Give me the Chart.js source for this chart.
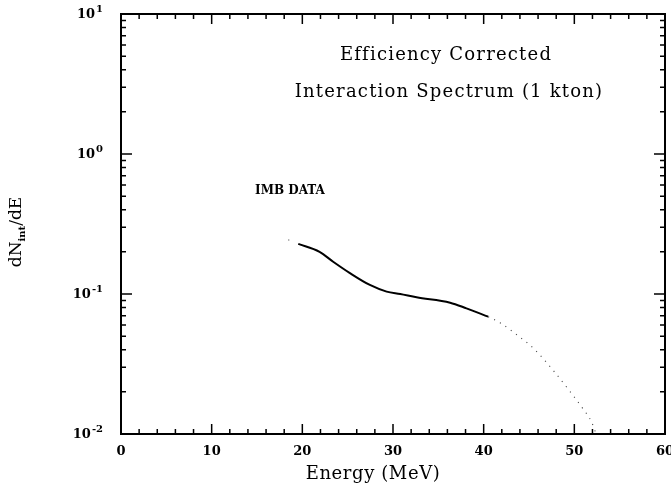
<!DOCTYPE html>
<html lang="en">
<head>
<meta charset="UTF-8" />
<title>Interaction Spectrum</title>
<script src="https://cdn.jsdelivr.net/npm/chart.js"></script>
<style>
  body { margin: 0; background: #fff; }
  .box { position: relative; width: 671px; height: 491px; }
</style>
</head>
<body>
<div class="box"><canvas id="spectrum"></canvas></div>
<script>
  // energy (MeV) and dN_int/dE
  const solidEnergy = [19.55, 21.9, 23.4, 25.25, 27.45, 29.3, 30.8, 32.6, 36.3, 38.1, 40.5];
  const solidRate   = [0.228, 0.200, 0.170, 0.141, 0.116, 0.104, 0.100, 0.0947, 0.0867, 0.079, 0.0689];
  const dottedEnergy = [40.5, 41.8, 44.0, 45.5, 47.7, 49.9, 50.9, 51.9, 52.4];
  const dottedRate   = [0.0689, 0.0624, 0.0491, 0.0409, 0.0283, 0.0187, 0.0153, 0.0122, 0.0100];
  const strayEnergy = [18.5];
  const strayRate   = [0.243];

  const xTicks = [0, 10, 20, 30, 40, 50, 60];
  const yDecades = [0.01, 0.1, 1, 10];
  const yExponents = ['-2', '-1', '0', '1'];

  const pairs = (xs, ys) => xs.map((x, i) => ({ x: x, y: ys[i] }));
  const serif = '"DejaVu Serif", serif';

  // box, inward ticks on all sides, y labels with exponents, and the texts
  const frame = {
    id: 'frame',
    afterDraw(chart) {
      const { ctx, chartArea: a, scales: { x, y } } = chart;
      ctx.save();
      ctx.strokeStyle = '#000';
      ctx.lineWidth = 2;
      ctx.strokeRect(a.left, a.top, a.right - a.left, a.bottom - a.top);

      ctx.lineWidth = 1.5;
      ctx.beginPath();
      for (let e = 0; e <= 60; e += 2) {
        const px = x.getPixelForValue(e);
        const len = e % 10 === 0 ? 10 : 5;
        ctx.moveTo(px, a.bottom); ctx.lineTo(px, a.bottom - len);
        ctx.moveTo(px, a.top); ctx.lineTo(px, a.top + len);
      }
      yDecades.forEach((d, i) => {
        const py = y.getPixelForValue(d);
        ctx.moveTo(a.left, py); ctx.lineTo(a.left + 11, py);
        ctx.moveTo(a.right, py); ctx.lineTo(a.right - 11, py);
        if (i < yDecades.length - 1) {
          for (let m = 2; m <= 9; m++) {
            const q = y.getPixelForValue(m * d);
            ctx.moveTo(a.left, q); ctx.lineTo(a.left + 5, q);
            ctx.moveTo(a.right, q); ctx.lineTo(a.right - 5, q);
          }
        }
      });
      ctx.stroke();

      ctx.fillStyle = '#000';
      ctx.textBaseline = 'middle';
      ctx.textAlign = 'left';
      yDecades.forEach((d, i) => {
        const py = y.getPixelForValue(d);
        ctx.font = 'bold 13px ' + serif;
        const bw = ctx.measureText('10').width;
        ctx.font = 'bold 10px ' + serif;
        const ew = ctx.measureText(yExponents[i]).width;
        const x0 = 103 - ew - bw - 1;
        ctx.font = 'bold 13px ' + serif;
        ctx.fillText('10', x0, py + 1);
        ctx.font = 'bold 10px ' + serif;
        ctx.fillText(yExponents[i], x0 + bw + 1, py - 5);
      });

      ctx.textAlign = 'center';
      ctx.font = '18px ' + serif;
      ctx.letterSpacing = '1.2px';
      ctx.fillText('Efficiency Corrected', 446, 55);
      ctx.fillText('Interaction Spectrum (1 kton)', 449, 92);
      ctx.letterSpacing = '0.6px';
      ctx.fillText('Energy (MeV)', 373, 474);
      ctx.letterSpacing = '0px';
      ctx.font = 'bold 12px ' + serif;
      ctx.fillText('IMB DATA', 290, 191);

      // rotated y title with subscript
      ctx.translate(17, 232);
      ctx.rotate(-Math.PI / 2);
      ctx.textAlign = 'left';
      ctx.font = '17px ' + serif;
      const w1 = ctx.measureText('dN').width;
      const w3 = ctx.measureText('/dE').width;
      ctx.font = 'bold 10px ' + serif;
      const w2 = ctx.measureText('int').width;
      let cx = -(w1 + w2 + w3) / 2;
      ctx.font = '17px ' + serif;
      ctx.fillText('dN', cx, 0);
      cx += w1;
      ctx.font = 'bold 10px ' + serif;
      ctx.fillText('int', cx, 5);
      cx += w2;
      ctx.font = '17px ' + serif;
      ctx.fillText('/dE', cx, 0);
      ctx.restore();
    }
  };

  new Chart(document.getElementById('spectrum'), {
    type: 'line',
    data: {
      datasets: [
        {
          label: 'IMB data',
          data: pairs(solidEnergy, solidRate),
          borderColor: '#000',
          borderWidth: 2,
          pointRadius: 0,
          cubicInterpolationMode: 'monotone'
        },
        {
          label: 'extrapolated',
          data: pairs(dottedEnergy, dottedRate),
          borderColor: '#444',
          borderWidth: 1.1,
          borderDash: [1.1, 5.5],
          pointRadius: 0,
          cubicInterpolationMode: 'monotone'
        },
        {
          label: 'stray',
          data: pairs(strayEnergy, strayRate),
          showLine: false,
          pointRadius: 0.8,
          pointBorderWidth: 0,
          pointBackgroundColor: '#888'
        }
      ]
    },
    options: {
      responsive: true,
      maintainAspectRatio: false,
      animation: false,
      layout: { padding: { top: 14, right: 6, left: 0, bottom: 0 }, autoPadding: false },
      plugins: { legend: { display: false }, tooltip: { enabled: false } },
      scales: {
        x: {
          type: 'linear',
          min: 0,
          max: 60,
          afterBuildTicks: s => { s.ticks = xTicks.map(v => ({ value: v })); },
          afterFit: s => { s.height = 57; s.paddingLeft = 0; s.paddingRight = 0; },
          grid: { display: false, drawTicks: false },
          border: { display: false },
          ticks: {
            color: '#000',
            padding: 10,
            maxRotation: 0,
            autoSkip: false,
            font: { family: serif, size: 13, weight: 'bold' }
          }
        },
        y: {
          type: 'logarithmic',
          min: 0.01,
          max: 10,
          afterFit: s => { s.width = 121; s.paddingTop = 0; s.paddingBottom = 0; },
          grid: { display: false, drawTicks: false },
          border: { display: false },
          ticks: { display: false }
        }
      }
    },
    plugins: [frame]
  });
</script>
</body>
</html>
